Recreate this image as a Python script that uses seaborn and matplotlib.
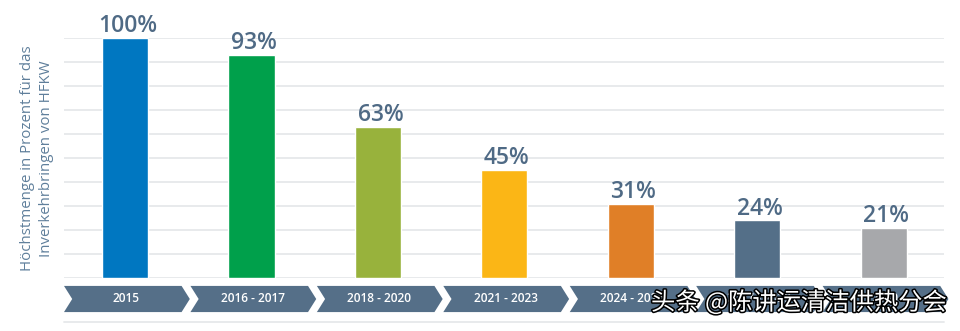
import matplotlib
matplotlib.use("Agg")
import matplotlib.pyplot as plt
import matplotlib.patheffects as pe
from matplotlib.patches import Polygon
import seaborn as sns

# Data
periods = ["2015", "2016 - 2017", "2018 - 2020", "2021 - 2023",
           "2024 - 2026", "2027 - 2029", "2030"]
shares = [100, 93, 63, 45, 31, 24, 21]
bar_colors = ["#0077c1", "#00a04b", "#98b23c", "#fbb616",
              "#e07f27", "#546f88", "#a7a8ab"]
ylabel = "Höchstmenge in Prozent für das\nInverkehrbringen von HFKW"
watermark = "头条 @陈讲运清洁供热分会"

sns.set_theme(style="white")
plt.rcParams["font.family"] = ["Open Sans", "DejaVu Sans"]

fig = plt.figure(figsize=(9.6, 3.31), dpi=100)
ax = fig.add_axes([64 / 960, 53 / 331, 880 / 960, 240 / 331])

sns.barplot(x=periods, y=shares, hue=periods, palette=bar_colors,
            width=0.365, legend=False, saturation=1, ax=ax, zorder=3)

ax.set_xlim(-0.483, 6.477)
ax.set_ylim(0, 100)
ax.set_yticks(range(0, 101, 10))
ax.yaxis.grid(True, color="#e6e8ea", linewidth=1.3, zorder=0)
ax.set_axisbelow(True)
for s in ax.spines.values():
    s.set_visible(False)
ax.tick_params(left=False, bottom=False, labelleft=False, labelbottom=False)
ax.set_xlabel("")
ax.set_ylabel("")

label_color = "#4f6a85"
for i, v in enumerate(shares):
    ax.text(i + 0.02, v + 2.4, f"{v}%", ha="center", va="baseline",
            fontsize=16.5, fontweight="semibold", color=label_color,
            clip_on=False, zorder=4)

# Chevron-shaped period labels below the bars
chev_top, chev_bot = -3.3, -14.2
chev_mid = (chev_top + chev_bot) / 2
depth = 0.065
for i, p in enumerate(periods):
    left = i - 0.483
    right = i + 0.447
    pts = [(left, chev_top), (right, chev_top), (right + depth, chev_mid),
           (right, chev_bot), (left, chev_bot), (left + depth, chev_mid)]
    ax.add_patch(Polygon(pts, closed=True, facecolor="#556f88",
                         edgecolor="none", clip_on=False, zorder=3))
    ax.text(i + 0.01, chev_mid, p, ha="center", va="center", fontsize=8.6,
            fontweight="semibold", color="white", clip_on=False, zorder=4)

ax.plot([-0.483, 6.477], [-18.3, -18.3], color="#e6e8ea", linewidth=1.3,
        clip_on=False, zorder=1)

fig.text(37 / 960, 0.522, ylabel, rotation=90, ha="center", va="center",
         fontsize=10.8, color="#5f7f9b", linespacing=1.3)

fig.text(651 / 960, 0.085, watermark, ha="left", va="center", fontsize=17.5,
         color="white", family=["Noto Sans CJK SC", "DejaVu Sans"],
         path_effects=[pe.withStroke(linewidth=2.2, foreground="black")],
         zorder=10)

fig.savefig("out.png", dpi=100)
